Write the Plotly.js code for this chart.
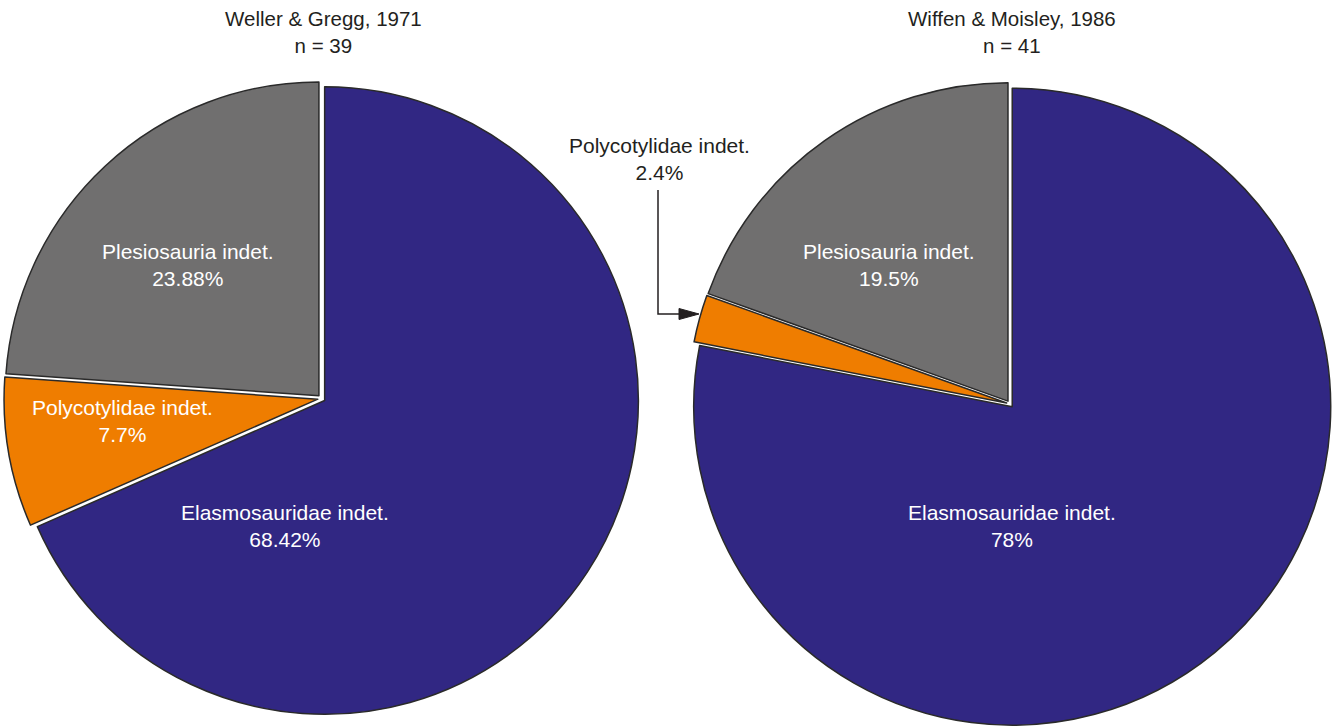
<!DOCTYPE html>
<html>
<head>
<meta charset="utf-8">
<script src="https://cdn.plot.ly/plotly-3.0.1.min.js"></script>
<style>
  html, body { margin: 0; padding: 0; background: #ffffff; }
  #chart { width: 1338px; height: 726px; }
</style>
</head>
<body>
<div id="chart"></div>
<script>
// ---- data ----
const categories = ['Elasmosauridae indet.', 'Polycotylidae indet.', 'Plesiosauria indet.'];
const wellerValues = [68.42, 7.7, 23.88];
const wiffenValues = [78, 2.4, 19.5];
const wellerTitle = ['Weller & Gregg, 1971', 'n = 39'];
const wiffenTitle = ['Wiffen & Moisley, 1986', 'n = 41'];

// ---- styles ----
const sliceColors = ['#312783', '#EF7D00', '#706F6F'];
const W = 1338, H = 726;
const X = px => px / W;
const Y = py => 1 - py / H;
const FONT = 'Liberation Sans, Arial, Helvetica, sans-serif';

const outline = { color: '#2a2a2a', width: 1.5 };

const leftPie = {
  type: 'pie',
  labels: categories,
  values: wellerValues,
  sort: false,
  direction: 'clockwise',
  rotation: 0,
  pull: [0.012, 0.012, 0.012],
  marker: { colors: sliceColors, line: outline },
  textinfo: 'none',
  hoverinfo: 'label+value',
  showlegend: false,
  domain: { x: [X(4), X(639)], y: [Y(716), Y(81)] }
};

const rightPie = {
  type: 'pie',
  labels: categories,
  values: wiffenValues,
  sort: false,
  direction: 'clockwise',
  rotation: 0,
  pull: [0.011, 0.011, 0.011],
  marker: { colors: sliceColors, line: outline },
  textinfo: 'none',
  hoverinfo: 'label+value',
  showlegend: false,
  domain: { x: [X(688), X(1332)], y: [0, Y(82)] }
};

// label placement (layout positions, px)
const leftLabelPos = [[285, 526], [122, 421], [188, 265]];
const rightLabelPos = [[1012, 526], null, [889, 265]];

const annotations = [];
function labelText(i, vals) { return categories[i] + '<br>' + vals[i] + '%'; }
function addLabels(pos, vals) {
  pos.forEach((p, i) => {
    if (!p) return;
    annotations.push({
      xref: 'paper', yref: 'paper', x: X(p[0]), y: Y(p[1]),
      xanchor: 'center', yanchor: 'middle', showarrow: false,
      text: labelText(i, vals),
      font: { family: FONT, size: 21, color: '#ffffff' }
    });
  });
}
addLabels(leftLabelPos, wellerValues);
addLabels(rightLabelPos, wiffenValues);

// outside label for the small slice of the right pie
annotations.push({
  xref: 'paper', yref: 'paper', x: X(659), y: Y(159),
  xanchor: 'center', yanchor: 'middle', showarrow: false,
  text: labelText(1, wiffenValues),
  font: { family: FONT, size: 21, color: '#231f20' }
});

// titles
annotations.push({
  xref: 'paper', yref: 'paper', x: X(323), y: Y(32),
  xanchor: 'center', yanchor: 'middle', showarrow: false,
  text: wellerTitle.join('<br>'),
  font: { family: FONT, size: 20.5, color: '#231f20' }
});
annotations.push({
  xref: 'paper', yref: 'paper', x: X(1012), y: Y(32),
  xanchor: 'center', yanchor: 'middle', showarrow: false,
  text: wiffenTitle.join('<br>'),
  font: { family: FONT, size: 20.5, color: '#231f20' }
});

const shapes = [
  {
    type: 'path', xref: 'paper', yref: 'paper',
    path: `M ${X(658)} ${Y(190)} L ${X(658)} ${Y(314)} L ${X(681)} ${Y(314)}`,
    line: { color: '#231f20', width: 1.5 }, fillcolor: 'rgba(0,0,0,0)'
  },
  {
    type: 'path', xref: 'paper', yref: 'paper',
    path: `M ${X(679)} ${Y(308.5)} L ${X(699)} ${Y(314)} L ${X(679)} ${Y(319.5)} Z`,
    line: { color: '#231f20', width: 1 }, fillcolor: '#231f20'
  }
];

const layout = {
  width: W, height: H,
  margin: { l: 0, r: 0, t: 0, b: 0 },
  paper_bgcolor: '#ffffff',
  plot_bgcolor: '#ffffff',
  showlegend: false,
  font: { family: FONT },
  annotations: annotations,
  shapes: shapes
};

Plotly.newPlot('chart', [leftPie, rightPie], layout, { displayModeBar: false, staticPlot: true });
</script>
</body>
</html>
